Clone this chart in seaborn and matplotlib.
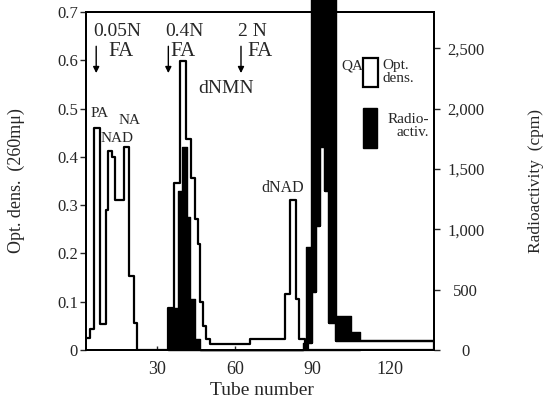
import numpy as np
import pandas as pd
import matplotlib
matplotlib.use('Agg')
import matplotlib.pyplot as plt
import seaborn as sns
from matplotlib.patches import Rectangle
from matplotlib.ticker import FuncFormatter

# Optical density at 260 mu, step histogram (bin edges in tube numbers)
od_edges = [2.5, 4, 5.5, 8, 10, 11, 12.5, 13.5, 17, 19, 21, 22,
            34, 36.5, 39, 41.3, 43, 44.8, 45.7, 46.4, 47.7, 49, 50.6,
            66, 79.5, 81.5, 83.7, 85, 87,
            88.3, 90, 91.5, 93, 94.8, 96.4, 99.3, 137]
od_values = [0.025, 0.043, 0.46, 0.054, 0.29, 0.412, 0.40, 0.31, 0.42, 0.153, 0.056,
             0.0,
             0.087, 0.345, 0.598, 0.437, 0.357, 0.271, 0.22, 0.10, 0.05, 0.022,
             0.012, 0.022, 0.116, 0.31, 0.105, 0.022, 0.015,
             0.015, 0.12, 0.257, 0.42, 0.33, 0.056, 0.018]

# Radioactivity (cpm), filled black
cpm_edges = [34, 38.2, 39.6, 41.5, 42.8, 44.8, 46.4, 86.5, 87.6, 89.6, 99.3, 105.1, 108.4]
cpm_values = [350, 1320, 1680, 1100, 420, 90, 0, 60, 850, 2950, 280, 150]

# first bin of the QA peak (OD drawn over the black there)
qa_start = 29

sns.set_style('ticks')
plt.rcParams['font.family'] = ['Liberation Serif', 'DejaVu Serif']


def bin_frame(edges, values):
    e = np.asarray(edges, dtype=float)
    return pd.DataFrame({'tube': (e[:-1] + e[1:]) / 2, 'value': values})


od = bin_frame(od_edges, od_values)
cpm = bin_frame(cpm_edges, cpm_values)

fig, ax = plt.subplots(figsize=(5.52, 4.05), dpi=100)
fig.subplots_adjust(left=0.156, right=0.786, bottom=0.136, top=0.970)
ax2 = ax.twinx()

# radioactivity in black (behind)
sns.histplot(data=cpm, x='tube', weights='value', bins=cpm_edges, element='step',
             fill=True, color='black', alpha=1, linewidth=1, ax=ax2)
for c in ax2.collections:
    c.set_clip_on(False)

# optical density outline (in front)
ax.set_zorder(ax2.get_zorder() + 1)
ax.patch.set_visible(False)
sns.histplot(data=od, x='tube', weights='value', bins=od_edges, element='step',
             fill=False, color='black', linewidth=1.6, ax=ax)
sns.histplot(data=od.iloc[qa_start:], x='tube', weights='value', bins=od_edges[qa_start:],
             element='step', fill=True, facecolor='white', edgecolor='black',
             alpha=1, linewidth=1.6, ax=ax)

ax.set_xlim(2.5, 137)
ax.set_ylim(0, 0.7)
ax2.set_ylim(0, 2800)

ax.set_xticks([30, 60, 90, 120])
ax.set_yticks(np.arange(0, 0.71, 0.1))
ax.yaxis.set_major_formatter(FuncFormatter(lambda v, p: '0' if abs(v) < 1e-9 else f'{v:.1f}'))
ax2.set_yticks([0, 500, 1000, 1500, 2000, 2500])
ax2.yaxis.set_major_formatter(FuncFormatter(lambda v, p: f'{v:,.0f}'))

ax.tick_params(axis='y', direction='out', length=4, width=1, labelsize=12, pad=2)
ax.tick_params(axis='x', direction='in', length=3, width=1, labelsize=13, pad=8)
ax2.tick_params(axis='y', direction='out', length=4, width=1, labelsize=12, pad=19)
for lab in ax2.get_yticklabels():
    lab.set_horizontalalignment('center')

for a in (ax, ax2):
    for s in a.spines.values():
        s.set_linewidth(1.4)
        s.set_color('black')

ax.set_xlabel('Tube number', fontsize=14)
ax.xaxis.set_label_coords(0.506, -0.095)
ax.set_ylabel('Opt. dens.  (260mμ)', fontsize=13)
ax.yaxis.set_label_coords(-0.175, 0.5)
ax2.set_ylabel('Radioactivity  (cpm)', fontsize=12.5)
ax2.yaxis.set_label_coords(1.27, 0.5)

# eluent changes
for tube, conc, fa_x in [(6.4, '0.05N', 15.8), (34.3, '0.4N', 40), (62.4, '2 N', 69.7)]:
    ax.text(tube - 1.3, 0.66, conc, fontsize=14, ha='left', va='center')
    ax.text(fa_x, 0.619, 'FA', fontsize=15, ha='center', va='center')
    ax.annotate('', xy=(tube, 0.568), xytext=(tube, 0.635),
                arrowprops=dict(arrowstyle='-|>', color='black', lw=1, mutation_scale=9))

# peak labels
ax.text(56.5, 0.542, 'dNMN', fontsize=14, ha='center', va='center')
ax.text(7.6, 0.489, 'PA', fontsize=11, ha='center', va='center')
ax.text(19.2, 0.476, 'NA', fontsize=11, ha='center', va='center')
ax.text(14.6, 0.439, 'NAD', fontsize=11, ha='center', va='center')
ax.text(78.7, 0.335, 'dNAD', fontsize=11.5, ha='center', va='center')
ax.text(105.5, 0.588, 'QA', fontsize=11, ha='center', va='center')

# key
ax.add_patch(Rectangle((0.796, 0.777), 0.043, 0.086, transform=ax.transAxes,
                       facecolor='white', edgecolor='black', lw=1.6))
ax.add_patch(Rectangle((0.796, 0.599), 0.040, 0.116, transform=ax.transAxes,
                       facecolor='black', edgecolor='black', lw=1))
ax.text(0.853, 0.822, 'Opt.\ndens.', transform=ax.transAxes, fontsize=11,
        ha='left', va='center', linespacing=1.0)
ax.text(0.985, 0.662, 'Radio-\nactiv.', transform=ax.transAxes, fontsize=11,
        ha='right', va='center', multialignment='right', linespacing=1.0)

fig.savefig('out.png', dpi=100)
